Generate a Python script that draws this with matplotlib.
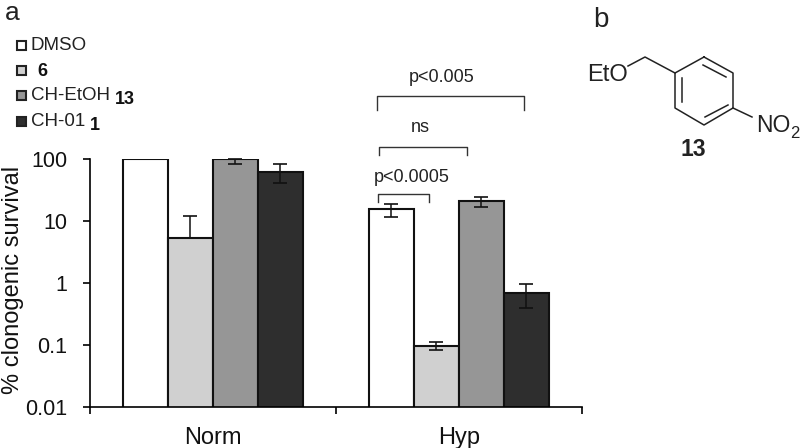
import matplotlib
matplotlib.use("Agg")
import matplotlib.pyplot as plt
import numpy as np

plt.rcParams['font.family'] = ['Liberation Sans', 'DejaVu Sans']

groups = ['Norm', 'Hyp']
series_names = ['DMSO', '6', 'CH-EtOH', 'CH-01']
series_tags = ['', '', '13', '1']
colors = ['#ffffff', '#d0d0d0', '#969696', '#2e2e2e']

dmso = [100, 15.6]
cpd6 = [5.4, 0.097]
etoh = [100, 21]
ch01 = [63, 0.69]

# nan where the reference shows no whisker at all
dmso_low = [np.nan, 11.8]
dmso_high = [np.nan, 19]
cpd6_low = [5.4, 0.083]
cpd6_high = [12.2, 0.112]
etoh_low = [85, 16.8]
etoh_high = [100, 24.6]
ch01_low = [42, 0.40]
ch01_high = [83, 0.96]

y_ticks = [0.01, 0.1, 1, 10, 100]
y_tick_labels = ['0.01', '0.1', '1', '10', '100']

W, H = 800, 448
fig = plt.figure(figsize=(W / 100, H / 100), dpi=100)

# axes box in pixels: x 89.5-582, y 159.3-407.3
ax = fig.add_axes([89.5 / W, 1 - 407.3 / H, (582 - 89.5) / W, (407.3 - 159.3) / H])

values = [dmso, cpd6, etoh, ch01]
lows = [dmso_low, cpd6_low, etoh_low, ch01_low]
highs = [dmso_high, cpd6_high, etoh_high, ch01_high]
bar_w = 0.1825
x_pos = np.arange(len(groups)) + 0.5

for i, (vals, low, high) in enumerate(zip(values, lows, highs)):
    x = x_pos + (i - 1.5) * bar_w
    vals = np.array(vals, dtype=float)
    ax.bar(x, vals, bar_w, bottom=0.001, color=colors[i], edgecolor='#111111', linewidth=1.5, zorder=2)
    yerr = [vals - np.array(low), np.array(high) - vals]
    ax.errorbar(x, vals, yerr=yerr, fmt='none', ecolor='#111111', elinewidth=1.1,
                capsize=5, capthick=1.2, zorder=3, clip_on=False)

ax.set_yscale('log')
ax.set_ylim(0.01, 100)
ax.set_xlim(0, 2)
ax.set_yticks(y_ticks)
ax.set_yticklabels(y_tick_labels, fontsize=15.5, color='#111111')
ax.minorticks_off()
ax.set_xticks([0, 1, 2])
ax.set_xticklabels([])
ax.tick_params(axis='y', length=5, width=1.2, pad=11)
ax.tick_params(axis='x', length=5, width=1.2)
ax.spines['top'].set_visible(False)
ax.spines['right'].set_visible(False)
ax.spines['left'].set_linewidth(1.2)
ax.spines['bottom'].set_linewidth(1.2)
for gx, name in zip(x_pos, groups):
    ax.annotate(name, (gx, 0), xycoords=('data', 'axes fraction'), xytext=(0, -14),
                textcoords='offset points', ha='center', va='top', fontsize=17, color='#111111')
ax.set_ylabel('% clonogenic survival', fontsize=17, color='#111111')
ax.yaxis.set_label_coords((24 - 89.5) / (582 - 89.5), 0.515)

# overlay in pixel coordinates for legend, brackets and the structure
ov = fig.add_axes([0, 0, 1, 1], zorder=5)
ov.set_xlim(0, W)
ov.set_ylim(H, 0)
ov.axis('off')
ov.patch.set_alpha(0)

ov.text(5, 20, 'a', fontsize=19, ha='left', va='baseline', color='#222222')
ov.text(593, 27, 'b', fontsize=20, ha='left', va='baseline', color='#222222')

# legend
row_y = [46, 71, 96, 122]
tag_x = [None, None, 115, 90]
for name, tag, c, y, tx in zip(series_names, series_tags, colors, row_y, tag_x):
    ov.add_patch(plt.Rectangle((17, y - 4.5), 9, 9, facecolor=c, edgecolor='#222222', linewidth=1.5))
    if name == '6':
        ov.text(37, y, name, fontsize=13, fontweight='bold', ha='left', va='center', color='#111111')
    else:
        ov.text(30.5, y, name, fontsize=13.5, ha='left', va='center', color='#222222')
    if tag:
        ov.text(tx, y + 3, tag, fontsize=13, fontweight='bold', ha='left', va='center', color='#111111')

# significance brackets
brackets = [(377, 524, 95.7, 110, 'p<0.005', 441.5, 77),
            (379, 467, 146.7, 155, 'ns', 420, 127),
            (378, 429, 193.7, 202, 'p<0.0005', 411.5, 178)]
for x0, x1, top, bottom, label, tx, ty in brackets:
    ov.plot([x0, x0, x1, x1], [bottom, top, top, bottom], color='#333333', lw=1.0)
    ov.text(tx, ty, label, fontsize=13, ha='center', va='center', color='#222222')

# compound 13
ring_x = [704, 733, 733, 704, 675, 675, 704]
ring_y = [57, 73, 108, 125, 108, 73, 57]
ov.plot(ring_x, ring_y, color='#222222', lw=1.1)
for xs, ys in [([628, 645, 675], [66, 57, 73]),
               ([733, 752], [108, 117]),
               ([703, 726], [65, 77]),
               ([682, 682], [78, 102]),
               ([705, 728], [117, 105])]:
    ov.plot(xs, ys, color='#222222', lw=1.1)
ov.text(587, 75, 'EtO', fontsize=17, ha='left', va='center', color='#222222')
ov.text(756.5, 126, 'NO', fontsize=16.5, ha='left', va='center', color='#222222')
ov.text(790, 133, '2', fontsize=12, ha='left', va='center', color='#222222')
ov.text(693, 149, '13', fontsize=16.5, fontweight='bold', ha='center', va='center', color='#222222')

fig.savefig('out.png', dpi=100)
